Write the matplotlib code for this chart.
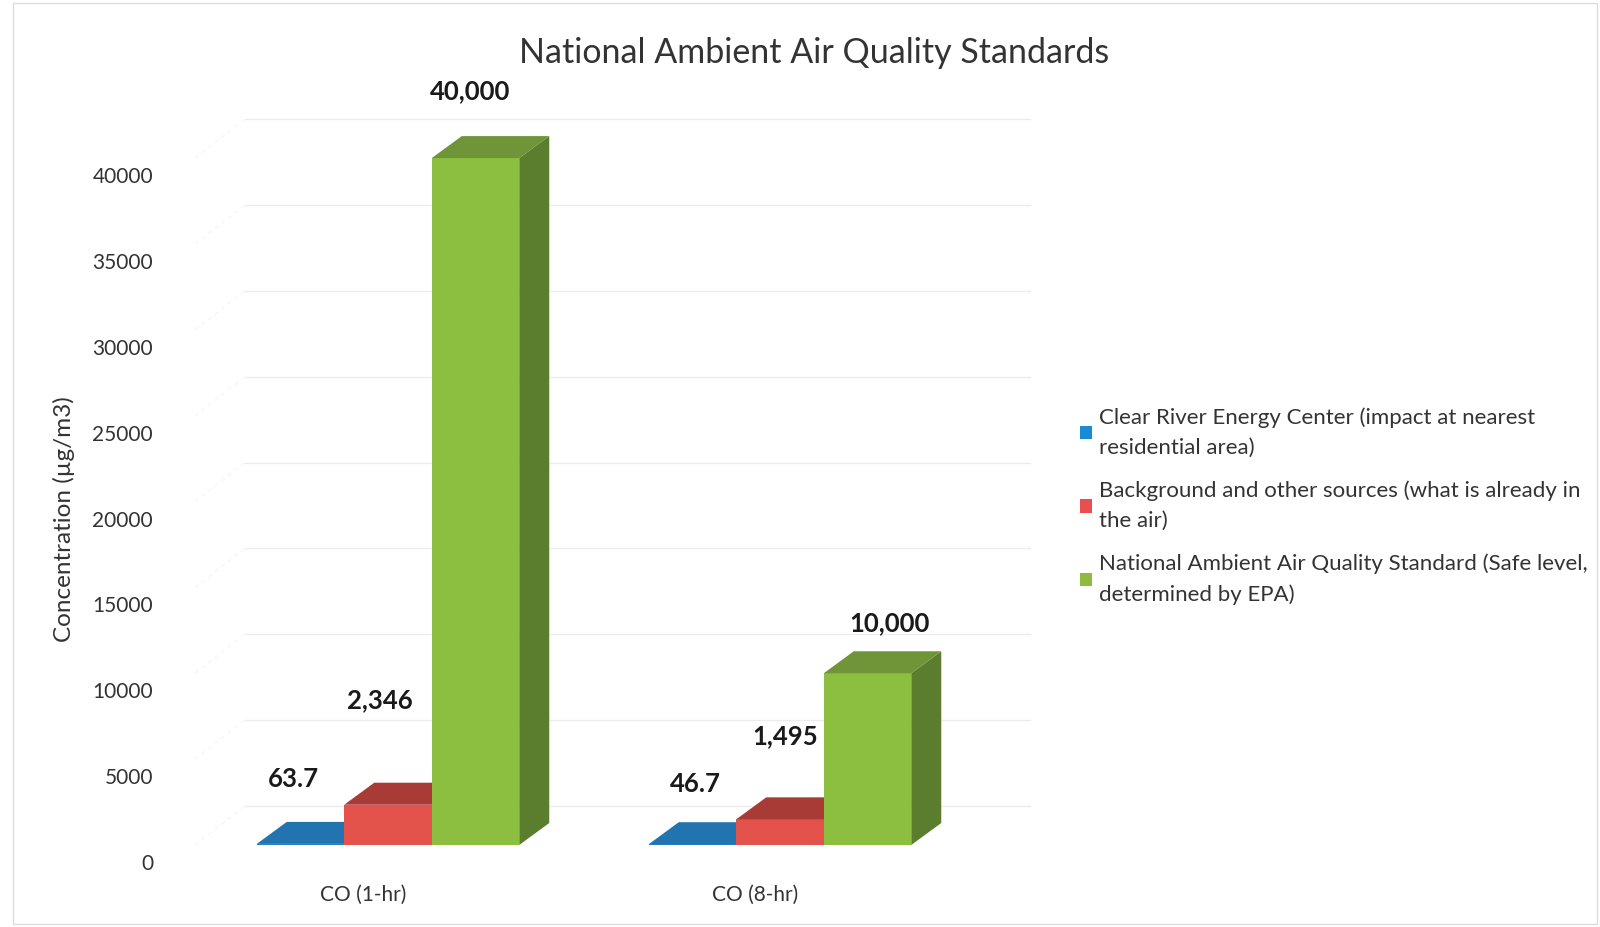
import matplotlib.pyplot as plt
from matplotlib.patches import Polygon, Patch, Rectangle
from matplotlib.transforms import ScaledTranslation

plt.rcParams['font.family'] = ['Lato', 'DejaVu Sans']

# data
categories = ['CO (1-hr)', 'CO (8-hr)']
series_names = ['Clear River Energy Center (impact at nearest\nresidential area)',
                'Background and other sources (what is already in\nthe air)',
                'National Ambient Air Quality Standard (Safe level,\ndetermined by EPA)']
clear_river = [63.7, 46.7]
background = [2346, 1495]
naaqs = [40000, 10000]
value_labels = [['63.7', '46.7'], ['2,346', '1,495'], ['40,000', '10,000']]
y_ticks = [0, 5000, 10000, 15000, 20000, 25000, 30000, 35000, 40000]

# styling
front_cols = ['#2a7fbd', '#e4524c', '#8cbf3f']
top_cols = ['#2274b0', '#a93b37', '#6f9538']
side_cols = ['#1c5f90', '#8a302c', '#5a7d2e']
legend_cols = ['#1a8ad4', '#e8504f', '#8fbb3e']
# pixel nudges of the value labels (dx, dy above bar top)
label_nudge = [[(-7, 65), (3, 60)], [(-8, 105), (5, 83)], [(-5, 67), (22, 50)]]

fig = plt.figure(figsize=(16, 9.27), dpi=100)
ax = fig.add_axes([150 / 1600, 82 / 927, 900 / 1600, 747 / 927])
ax.set_xlim(-238 / 392, 662 / 392)
ax.set_ylim(0, 43500)
for s in ax.spines.values():
    s.set_visible(False)

px_x = 1 / 392          # data units per pixel, x
px_y = 43500 / 747      # data units per pixel, y
w = 87.5 * px_x
ddx, ddy = 30 * px_x, 22 * px_y       # bar depth
wdx, wdy = 50 * px_x, 39 * px_y       # back wall offset
wall_left = -143 * px_x
wall_right = 642 * px_x
front_left = -193 * px_x

# back wall gridlines + side wall lines
for v in y_ticks:
    ax.plot([wall_left, wall_right], [v + wdy, v + wdy], color='#ececec', lw=1, zorder=0)
    ax.plot([front_left, wall_left], [v, v + wdy], color='#f6f6f6', lw=1, ls=(0, (3, 3)), zorder=0)

series = [clear_river, background, naaqs]
for k, vals in enumerate(series):
    xs = [i + (k - 1) * w for i in range(len(categories))]
    ax.bar(xs, vals, w, color=front_cols[k], zorder=2 + k, linewidth=0)
    for i, (x, h) in enumerate(zip(xs, vals)):
        x0, x1 = x - w / 2, x + w / 2
        top = Polygon([(x0, h), (x0 + ddx, h + ddy), (x1 + ddx, h + ddy), (x1, h)],
                      closed=True, fc=top_cols[k], ec='none', zorder=2 + k)
        side = Polygon([(x1, 0), (x1, h), (x1 + ddx, h + ddy), (x1 + ddx, ddy)],
                       closed=True, fc=side_cols[k], ec='none', zorder=1.9 + k)
        ax.add_patch(side)
        ax.add_patch(top)
        dx, dy = label_nudge[k][i]
        ax.annotate(value_labels[k][i], xy=(x, h), xytext=(dx, dy), textcoords='offset pixels',
                    ha='center', va='center', fontsize=18.5, fontweight='bold', color='#1a1a1a', zorder=10)

# axes ticks
ax.set_yticks(y_ticks)
ax.set_yticklabels([str(t) for t in y_ticks], fontsize=15, color='#333333')
ax.tick_params(axis='y', length=0, pad=0)
off = ScaledTranslation(0.03, -0.17, fig.dpi_scale_trans)
for lab in ax.get_yticklabels():
    lab.set_transform(lab.get_transform() + off)
ax.set_xticks([i - 0.064 for i in range(len(categories))])
ax.set_xticklabels(categories, fontsize=15, color='#333333')
ax.tick_params(axis='x', length=0, pad=29)

fig.text(64 / 1600, 1 - 519 / 927, 'Concentration (µg/m3)', rotation=90, ha='center', va='center',
         fontsize=17.5, color='#333333')
fig.text(814 / 1600, 1 - 53 / 927, 'National Ambient Air Quality Standards', ha='center', va='center',
         fontsize=24.5, color='#333333')

handles = [Patch(facecolor=c, edgecolor='none') for c in legend_cols]
leg = ax.legend(handles, series_names, loc='upper left', bbox_to_anchor=(1080 / 1600, 1 - 407 / 927),
                bbox_transform=fig.transFigure, frameon=False, fontsize=16, handlelength=0.55,
                handleheight=0.55, handletextpad=0.3, labelspacing=1.0, borderpad=0, borderaxespad=0,
                labelcolor='#333333')
for t in leg.get_texts():
    t.set_linespacing(1.65)

fig.patches.append(Rectangle((13 / 1600, 3 / 927), 1584 / 1600, 921 / 927, transform=fig.transFigure,
                             fill=False, ec='#dddddd', lw=1))

fig.savefig('out.png', dpi=100)
